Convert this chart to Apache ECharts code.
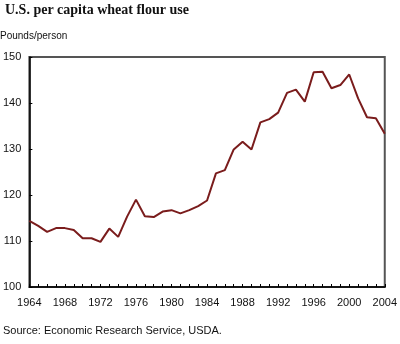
<!DOCTYPE html>
<html>
<head>
<meta charset="utf-8">
<script src="https://cdn.jsdelivr.net/npm/echarts@6/dist/echarts.min.js"></script>
<style>
html,body{margin:0;padding:0;background:#fff;}
#chart{width:400px;height:344px;}
</style>
</head>
<body>
<div id="chart"></div>
<script>
const years = [];
for (let y = 1964; y <= 2004; y++) years.push(String(y));
const flourUse = [
  114.4, 113.3, 112.0, 112.8, 112.8, 112.4, 110.6, 110.6, 109.8, 112.7,
  110.9, 115.3, 119.0, 115.4, 115.2, 116.4, 116.7, 116.0, 116.7, 117.6,
  118.8, 124.7, 125.4, 129.9, 131.6, 129.9, 135.8, 136.5, 137.9, 142.2,
  142.9, 140.3, 146.7, 146.8, 143.2, 143.9, 146.2, 141.0, 136.9, 136.7,
  133.3
];
const yTicks = [100, 110, 120, 130, 140, 150];

const chart = echarts.init(document.getElementById('chart'));
chart.setOption({
  animation: false,
  backgroundColor: '#fff',
  title: {
    text: 'U.S. per capita wheat flour use',
    left: 0, top: -2,
    textStyle: { fontFamily: 'Liberation Serif', fontWeight: 'bold', fontSize: 14, color: '#111' }
  },
  graphic: [
    { type: 'text', left: 0, top: 31, style: { text: 'Pounds/person', fontFamily: 'Liberation Sans', fontSize: 10, fill: '#111' } },
    { type: 'text', left: 3, top: 325, style: { text: 'Source: Economic Research Service, USDA.', fontFamily: 'Liberation Sans', fontSize: 11, fill: '#111' } }
  ],
  grid: {
    left: 26, right: 11, top: 57, bottom: 57,
    show: true, borderColor: '#555', borderWidth: 2, backgroundColor: '#fff'
  },
  xAxis: {
    type: 'category',
    data: years,
    boundaryGap: false,
    axisLine: { lineStyle: { color: '#000', width: 1.5 } },
    axisTick: { inside: true, interval: 0, length: 3, lineStyle: { color: '#000' } },
    axisLabel: { interval: 3, fontFamily: 'Liberation Sans', fontSize: 11, color: '#111', margin: 10 },
    splitLine: { show: false }
  },
  yAxis: {
    type: 'value',
    min: yTicks[0], max: yTicks[yTicks.length - 1], interval: 10,
    axisLine: { show: true, lineStyle: { color: '#000', width: 1.5 } },
    axisTick: { show: true, inside: true, length: 3, lineStyle: { color: '#000' } },
    axisLabel: { fontFamily: 'Liberation Sans', fontSize: 11, color: '#111', margin: 8 },
    splitLine: { show: false }
  },
  series: [{
    type: 'line',
    data: flourUse,
    showSymbol: false,
    lineStyle: { color: '#7a1c1c', width: 2 },
    itemStyle: { color: '#7a1c1c' }
  }]
});
</script>
</body>
</html>
